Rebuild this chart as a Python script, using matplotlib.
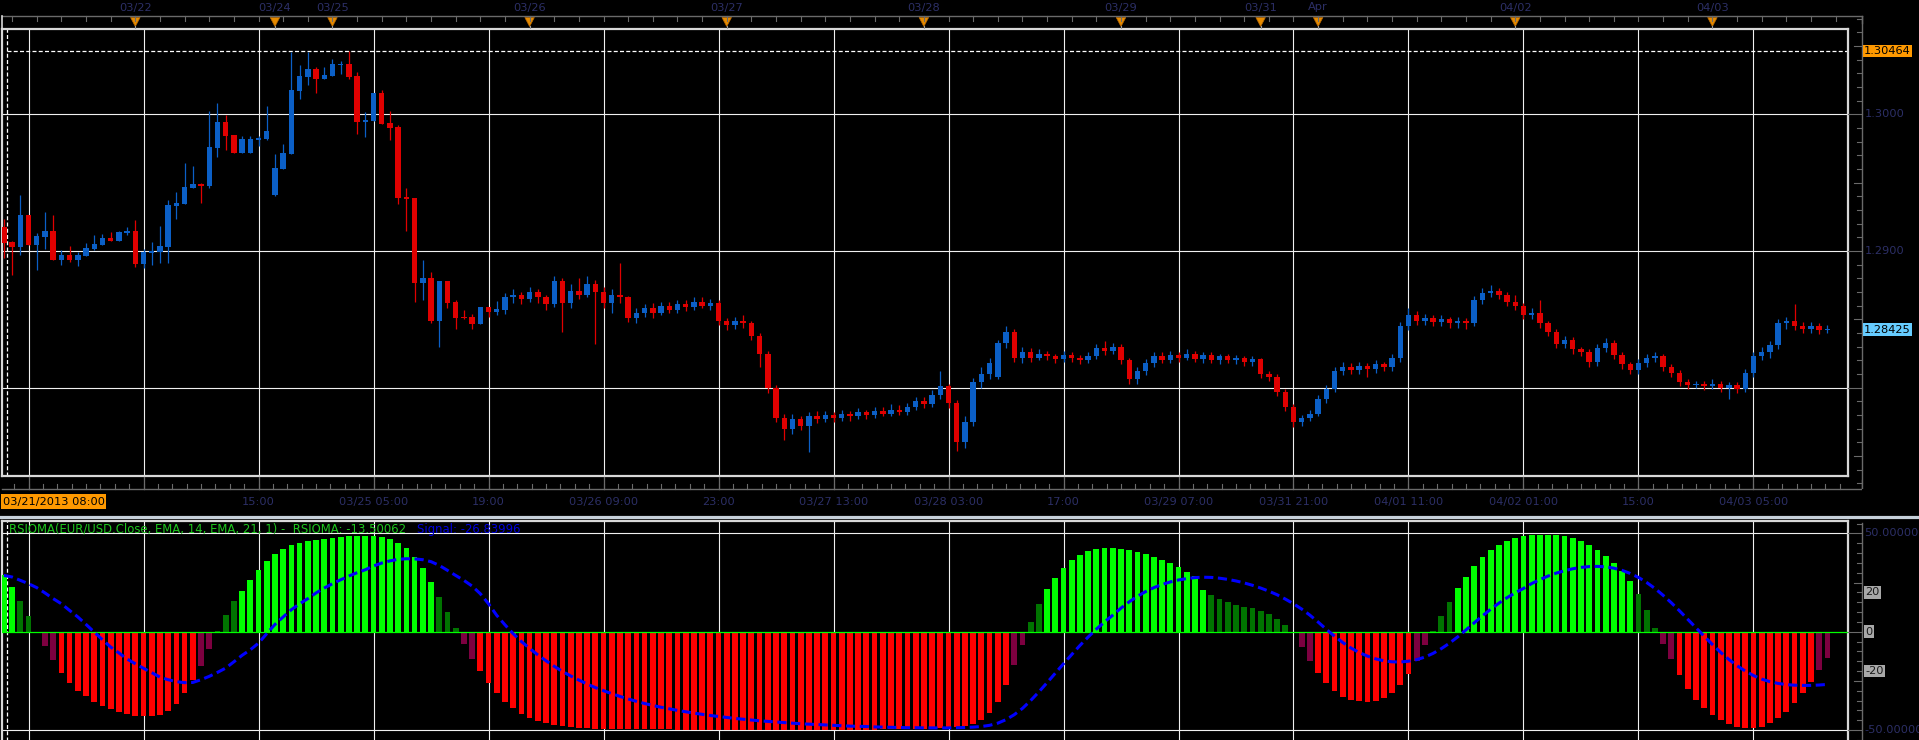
import numpy as np
import matplotlib
matplotlib.use("Agg")
import matplotlib.pyplot as plt
from matplotlib.patches import Rectangle, Polygon

# ---------------- data ----------------
opens = [
    1.29173, 1.29069, 1.29032, 1.29264, 1.29044, 1.29103, 1.29147, 1.28934, 1.28971, 1.28934,
    1.28964, 1.29015, 1.29044, 1.29095, 1.29073, 1.29132, 1.29147, 1.28905, 1.28986, 1.28993,
    1.29030, 1.29329, 1.29344, 1.29461, 1.29490, 1.29476, 1.29754, 1.29944, 1.29849, 1.29717,
    1.29717, 1.29812, 1.29820, 1.29410, 1.29600, 1.29710, 1.30171, 1.30273, 1.30332, 1.30258,
    1.30280, 1.30361, 1.30368, 1.30280, 1.29944, 1.29951, 1.30156, 1.29937, 1.29907, 1.29395,
    1.29388, 1.28766, 1.28803, 1.28488, 1.28781, 1.28627, 1.28517, 1.28517, 1.28466, 1.28591,
    1.28554, 1.2857, 1.2866, 1.2868, 1.2865, 1.2870, 1.2866, 1.2861, 1.2878, 1.2862,
    1.2871, 1.2868, 1.2876, 1.2870, 1.2862, 1.2868, 1.2866, 1.2851, 1.2855, 1.2858,
    1.2855, 1.2860, 1.2857, 1.2861, 1.2859, 1.2863, 1.2860, 1.2862, 1.2849, 1.2846,
    1.2849, 1.2847, 1.2838, 1.2825, 1.2800, 1.2778, 1.2770, 1.2777, 1.2772, 1.2779,
    1.2777, 1.2780, 1.2778, 1.2781, 1.2779, 1.2782, 1.2780, 1.2783, 1.2781, 1.2784,
    1.2782, 1.2786, 1.2790, 1.2788, 1.2795, 1.2801, 1.2789, 1.2760, 1.2775, 1.2804,
    1.2810, 1.2808, 1.2833, 1.2841, 1.2822, 1.2826, 1.2822, 1.2825, 1.2823, 1.2821,
    1.2824, 1.2822, 1.2820, 1.2823, 1.2829, 1.2827, 1.2830, 1.2820, 1.2806, 1.2812,
    1.2818, 1.2823, 1.2820, 1.2824, 1.2822, 1.2825, 1.2821, 1.2824, 1.2820, 1.2823,
    1.2820, 1.2822, 1.2819, 1.2821, 1.2810, 1.2808, 1.2797, 1.2786, 1.2775, 1.2778,
    1.2781, 1.2792, 1.2799, 1.2812, 1.2815, 1.2813, 1.2816, 1.2814, 1.2817, 1.2815,
    1.2822, 1.2845, 1.2853, 1.2849, 1.2851, 1.2848, 1.2850, 1.2847, 1.2849, 1.2847,
    1.2864, 1.2869, 1.2871, 1.2868, 1.2863, 1.2860, 1.2853, 1.2855, 1.2847, 1.2841,
    1.2832, 1.2835, 1.2828, 1.2826, 1.2819, 1.2829, 1.2833, 1.2824, 1.2817, 1.2813,
    1.2818, 1.2822, 1.2823, 1.2815, 1.2811, 1.2804, 1.2802, 1.2803, 1.2801, 1.2803,
    1.2800, 1.2802, 1.2799, 1.2811, 1.2823, 1.2826, 1.2831, 1.2847, 1.2849, 1.2845,
    1.2843, 1.2845, 1.2842,
]
highs = [
    1.29234, 1.29073, 1.29410, 1.29264, 1.29134, 1.29286, 1.29264, 1.29008, 1.29037, 1.28993,
    1.29059, 1.29117, 1.29125, 1.29139, 1.29147, 1.29176, 1.29227, 1.29015, 1.29066, 1.29183,
    1.29373, 1.29432, 1.29644, 1.29622, 1.29498, 1.30024, 1.30083, 1.29995, 1.29849, 1.29842,
    1.29842, 1.29842, 1.30061, 1.29710, 1.29783, 1.30455, 1.30361, 1.30455, 1.30346, 1.30346,
    1.30405, 1.30390, 1.30464, 1.30310, 1.30017, 1.30156, 1.30178, 1.30024, 1.29922, 1.29461,
    1.29388, 1.28934, 1.28847, 1.28781, 1.28781, 1.28642, 1.28569, 1.28539, 1.28591, 1.28591,
    1.28634, 1.2869, 1.2872, 1.2870, 1.2874, 1.2872, 1.2868, 1.2882, 1.2880, 1.2876,
    1.2880, 1.2882, 1.2879, 1.2874, 1.2872, 1.2891, 1.2867, 1.2858, 1.2861, 1.2862,
    1.2863, 1.2863, 1.2864, 1.2864, 1.2866, 1.2866, 1.2865, 1.2864, 1.2851, 1.2852,
    1.2853, 1.2849, 1.2840, 1.2827, 1.2802, 1.2781, 1.2781, 1.2779, 1.2782, 1.2783,
    1.2783, 1.2782, 1.2784, 1.2783, 1.2785, 1.2784, 1.2786, 1.2786, 1.2788, 1.2787,
    1.2789, 1.2793, 1.2793, 1.2798, 1.2812, 1.2803, 1.2791, 1.2779, 1.2807, 1.2815,
    1.2822, 1.2835, 1.2845, 1.2843, 1.2830, 1.2829, 1.2828, 1.2827, 1.2825, 1.2827,
    1.2826, 1.2824, 1.2826, 1.2832, 1.2834, 1.2833, 1.2832, 1.2822, 1.2815, 1.2821,
    1.2826, 1.2826, 1.2827, 1.2826, 1.2828, 1.2827, 1.2826, 1.2826, 1.2825, 1.2825,
    1.2824, 1.2823, 1.2823, 1.2822, 1.2812, 1.2810, 1.2799, 1.2788, 1.2780, 1.2784,
    1.2795, 1.2802, 1.2815, 1.2819, 1.2818, 1.2819, 1.2818, 1.2820, 1.2819, 1.2825,
    1.2848, 1.2858, 1.2856, 1.2854, 1.2853, 1.2853, 1.2852, 1.2852, 1.2851, 1.2867,
    1.2873, 1.2875, 1.2873, 1.2870, 1.2868, 1.2862, 1.2858, 1.2864, 1.2849, 1.2843,
    1.2838, 1.2837, 1.2830, 1.2828, 1.2832, 1.2836, 1.2835, 1.2826, 1.2819, 1.2821,
    1.2825, 1.2826, 1.2825, 1.2817, 1.2813, 1.2806, 1.2805, 1.2805, 1.2806, 1.2805,
    1.2804, 1.2804, 1.2814, 1.2826, 1.2830, 1.2834, 1.2850, 1.2852, 1.2861, 1.2848,
    1.2848, 1.2847, 1.2846,
]
lows = [
    1.28952, 1.28825, 1.28971, 1.29044, 1.28861, 1.29015, 1.28934, 1.28898, 1.28922, 1.28891,
    1.28964, 1.29008, 1.29044, 1.29073, 1.29073, 1.29117, 1.28883, 1.28876, 1.28898, 1.28912,
    1.28912, 1.29234, 1.29344, 1.29461, 1.29351, 1.29461, 1.29688, 1.29739, 1.29717, 1.29717,
    1.29717, 1.29768, 1.29812, 1.29403, 1.29600, 1.29710, 1.30112, 1.30215, 1.30156, 1.30258,
    1.30280, 1.30295, 1.30258, 1.29856, 1.29834, 1.29951, 1.29929, 1.29812, 1.29344, 1.29147,
    1.28627, 1.28642, 1.28474, 1.28300, 1.28583, 1.28430, 1.28503, 1.28430, 1.28466, 1.28517,
    1.28532, 1.2854, 1.2862, 1.2861, 1.2863, 1.2862, 1.2857, 1.2859, 1.2841, 1.2858,
    1.2865, 1.2866, 1.2832, 1.2858, 1.2855, 1.2862, 1.2848, 1.2847, 1.2852, 1.2851,
    1.2853, 1.2855, 1.2855, 1.2856, 1.2857, 1.2858, 1.2857, 1.2846, 1.2842, 1.2843,
    1.2844, 1.2835, 1.2815, 1.2796, 1.2775, 1.2762, 1.2766, 1.2769, 1.2753, 1.2774,
    1.2775, 1.2775, 1.2776, 1.2776, 1.2777, 1.2777, 1.2778, 1.2779, 1.2779, 1.2780,
    1.2780, 1.2784, 1.2785, 1.2786, 1.2792, 1.2785, 1.2754, 1.2756, 1.2772, 1.2800,
    1.2806, 1.2806, 1.2829, 1.2819, 1.2818, 1.2819, 1.2820, 1.2820, 1.2818, 1.2819,
    1.2819, 1.2817, 1.2818, 1.2821, 1.2824, 1.2825, 1.2817, 1.2803, 1.2803, 1.2809,
    1.2815, 1.2818, 1.2818, 1.2819, 1.2820, 1.2819, 1.2818, 1.2818, 1.2817, 1.2818,
    1.2817, 1.2816, 1.2816, 1.2807, 1.2805, 1.2794, 1.2783, 1.2771, 1.2772, 1.2776,
    1.2779, 1.2789, 1.2797, 1.2809, 1.2810, 1.2810, 1.2808, 1.2811, 1.2812, 1.2812,
    1.2819, 1.2842, 1.2846, 1.2846, 1.2845, 1.2845, 1.2844, 1.2844, 1.2843, 1.2845,
    1.2861, 1.2866, 1.2865, 1.2860, 1.2857, 1.2850, 1.2850, 1.2844, 1.2838, 1.2829,
    1.2829, 1.2825, 1.2823, 1.2815, 1.2816, 1.2826, 1.2821, 1.2814, 1.2810, 1.2810,
    1.2815, 1.2819, 1.2812, 1.2808, 1.2801, 1.2799, 1.2800, 1.2798, 1.2799, 1.2797,
    1.2792, 1.2796, 1.2797, 1.2808, 1.2820, 1.2822, 1.2828, 1.2843, 1.2842, 1.2840,
    1.2840, 1.2839, 1.2840,
]
closes = [
    1.29061, 1.29032, 1.29264, 1.29044, 1.29110, 1.29147, 1.28934, 1.28971, 1.28934, 1.28971,
    1.29022, 1.29051, 1.29095, 1.29073, 1.29139, 1.29147, 1.28905, 1.28993, 1.29000, 1.29037,
    1.29337, 1.29351, 1.29468, 1.29490, 1.29476, 1.29761, 1.29944, 1.29842, 1.29717, 1.29820,
    1.29820, 1.29827, 1.29878, 1.29607, 1.29717, 1.30178, 1.30280, 1.30332, 1.30258, 1.30288,
    1.30368, 1.30368, 1.30273, 1.29944, 1.29959, 1.30156, 1.29929, 1.29900, 1.29388, 1.29381,
    1.28766, 1.28803, 1.28488, 1.28781, 1.28620, 1.28510, 1.28510, 1.28466, 1.28591, 1.28554,
    1.28576, 1.2866, 1.2868, 1.2865, 1.2870, 1.2866, 1.2861, 1.2878, 1.2862, 1.2871,
    1.2868, 1.2876, 1.2870, 1.2862, 1.2868, 1.2866, 1.2851, 1.2855, 1.2858, 1.2855,
    1.2860, 1.2857, 1.2861, 1.2859, 1.2863, 1.2860, 1.2862, 1.2849, 1.2846, 1.2849,
    1.2847, 1.2838, 1.2825, 1.2800, 1.2778, 1.2770, 1.2777, 1.2772, 1.2779, 1.2777,
    1.2780, 1.2778, 1.2781, 1.2779, 1.2782, 1.2780, 1.2783, 1.2781, 1.2784, 1.2782,
    1.2786, 1.2790, 1.2788, 1.2795, 1.2801, 1.2789, 1.2760, 1.2775, 1.2804, 1.2810,
    1.2818, 1.2833, 1.2841, 1.2822, 1.2826, 1.2822, 1.2825, 1.2823, 1.2821, 1.2824,
    1.2822, 1.2820, 1.2823, 1.2829, 1.2827, 1.2830, 1.2820, 1.2806, 1.2812, 1.2818,
    1.2823, 1.2820, 1.2824, 1.2822, 1.2825, 1.2821, 1.2824, 1.2820, 1.2823, 1.2820,
    1.2822, 1.2819, 1.2821, 1.2810, 1.2808, 1.2797, 1.2786, 1.2775, 1.2778, 1.2781,
    1.2792, 1.2799, 1.2812, 1.2815, 1.2813, 1.2816, 1.2814, 1.2817, 1.2815, 1.2822,
    1.2845, 1.2853, 1.2849, 1.2851, 1.2848, 1.2850, 1.2847, 1.2849, 1.2847, 1.2864,
    1.2869, 1.2871, 1.2868, 1.2863, 1.2860, 1.2853, 1.2855, 1.2847, 1.2841, 1.2832,
    1.2835, 1.2828, 1.2826, 1.2819, 1.2829, 1.2833, 1.2824, 1.2817, 1.2813, 1.2818,
    1.2822, 1.2823, 1.2815, 1.2811, 1.2804, 1.2802, 1.2803, 1.2801, 1.2803, 1.2800,
    1.2802, 1.2799, 1.2811, 1.2823, 1.2826, 1.2831, 1.2847, 1.2849, 1.2845, 1.2843,
    1.2845, 1.2842, 1.28425,
]

rsioma = [
    28.6, 22.7, 15.4, 7.8, -0.5, -7.1, -14.4, -21.0, -26.1, -30.2,
    -32.9, -35.8, -37.8, -39.3, -40.8, -42.0, -42.9, -42.9, -42.9, -42.5,
    -40.3, -36.9, -31.2, -24.7, -17.6, -9.0, 0.3, 8.3, 15.4, 20.5,
    26.4, 31.2, 35.8, 39.3, 41.9, 43.9, 44.9, 45.9, 46.4, 47.1,
    47.8, 48.0, 48.6, 48.8, 48.6, 48.5, 48.3, 46.9, 44.9, 42.4,
    37.8, 32.2, 25.1, 17.5, 9.8, 1.7, -6.3, -14.1, -20.2, -26.3,
    -31.4, -35.5, -39.0, -41.8, -43.8, -45.3, -46.4, -47.2, -47.9, -48.4,
    -48.8, -49.1, -49.3, -49.4, -49.5, -49.5, -49.6, -49.6, -49.7, -49.7,
    -49.7, -49.7, -49.8, -49.8, -49.8, -49.8, -49.8, -49.8, -49.9, -49.9,
    -49.9, -49.9, -49.9, -49.9, -49.9, -49.9, -49.9, -49.9, -49.9, -49.9,
    -49.9, -49.9, -49.9, -49.8, -49.8, -49.8, -49.8, -49.7, -49.7, -49.6,
    -49.5, -49.4, -49.3, -49.1, -48.9, -48.6, -48.4, -48.0, -47.0, -45.0,
    -41.5, -35.5, -27.0, -17.0, -7.0, 5.0, 14.0, 21.5, 27.5, 32.5,
    36.5, 39.0, 40.8, 41.8, 42.3, 42.5, 42.2, 41.6, 40.7, 39.6,
    38.2, 36.6, 34.8, 32.8, 30.6, 28.2, 21.0, 18.5, 16.5, 15.0,
    13.8, 12.8, 11.8, 10.5, 8.8, 6.5, 3.5, -0.5, -8.0, -15.0,
    -21.0, -26.0, -30.0, -33.0, -34.5, -35.3, -35.5, -35.0, -33.5, -31.0,
    -27.0, -21.5, -15.0, -7.0, 0.5, 8.0, 15.0, 22.0, 28.0, 33.5,
    38.0, 41.5, 44.0, 46.0, 47.5, 48.5, 49.0, 49.2, 49.2, 49.0,
    48.5, 47.5, 46.0, 44.0, 41.5, 38.5, 35.0, 31.0, 26.0, 19.0,
    11.0, 2.0, -6.0, -14.0, -22.0, -29.0, -34.5, -39.0, -42.5, -45.0,
    -47.0, -48.3, -49.0, -49.2, -48.5, -46.5, -44.0, -40.7, -36.1, -31.0,
    -25.6, -19.6, -13.5,
]
signal = [
    28.6, 27.8, 26.1, 24.4, 22.4, 19.7, 16.8, 14.2, 10.8, 7.5,
    3.7, -0.2, -4.1, -7.8, -10.8, -13.9, -16.3, -18.6, -20.8, -23.1,
    -24.4, -25.4, -25.9, -25.8, -24.4, -22.7, -20.7, -18.5, -15.3, -12.0,
    -9.2, -5.8, -1.0, 3.7, 7.5, 11.2, 14.2, 16.8, 19.7, 22.2,
    24.4, 26.4, 28.3, 30.0, 31.5, 33.4, 34.9, 36.0, 36.8, 37.1,
    37.0, 36.6, 35.6, 33.7, 31.2, 28.6, 26.1, 23.2, 19.3, 14.2,
    8.3, 3.5, -1.0, -5.0, -8.5, -11.8, -14.8, -17.6, -20.2, -22.5,
    -24.6, -26.6, -28.4, -30.0, -31.5, -32.9, -34.2, -35.4, -36.5, -37.5,
    -38.4, -39.2, -40.0, -40.7, -41.4, -42.0, -42.6, -43.1, -43.6, -44.1,
    -44.5, -44.9, -45.3, -45.6, -45.9, -46.2, -46.5, -46.8, -47.0, -47.2,
    -47.4, -47.6, -47.8, -48.0, -48.1, -48.2, -48.4, -48.5, -48.6, -48.7,
    -48.8, -48.8, -48.9, -48.9, -48.9, -48.9, -48.8, -48.7, -48.5, -48.2,
    -47.6, -46.5, -44.7, -42.2, -39.0, -35.0, -30.6, -25.9, -21.1, -16.3,
    -11.6, -7.0, -2.7, 1.3, 5.0, 8.4, 12.0, 15.2, 18.0, 20.4,
    22.4, 24.0, 25.3, 26.3, 27.0, 27.5, 27.7, 27.6, 27.2, 26.6,
    25.8, 24.8, 23.6, 22.2, 20.6, 18.8, 16.6, 14.2, 11.5, 8.4,
    4.9, 1.2, -2.3, -5.5, -8.3, -10.6, -12.4, -13.8, -14.8, -15.3,
    -15.4, -15.0, -14.2, -12.9, -11.0, -8.6, -5.8, -2.6, 0.9, 4.5,
    8.0, 11.4, 14.5, 17.3, 19.8, 22.0, 24.5, 26.5, 28.3, 29.8,
    31.0, 32.0, 32.7, 33.1, 33.2, 33.0, 32.3, 31.2, 29.6, 27.6,
    25.0, 22.0, 18.5, 14.7, 10.6, 6.3, 2.0, -2.3, -6.5, -10.5,
    -14.1, -17.3, -20.0, -22.3, -24.1, -25.4, -26.3, -26.9, -27.2, -27.3,
    -27.3, -27.1, -26.8,
]

grid_bars = [3, 17, 31, 45, 59, 73, 87, 101, 115, 129, 143, 157, 171, 185, 199, 213]
bottom_labels = ["", "", "15:00", "03/25 05:00", "19:00", "03/26 09:00", "23:00",
                 "03/27 13:00", "03/28 03:00", "17:00", "03/29 07:00", "03/31 21:00",
                 "04/01 11:00", "04/02 01:00", "15:00", "04/03 05:00"]
day_bars = [16, 33, 40, 64, 88, 112, 136, 153, 160, 184, 208]
day_labels = ["03/22", "03/24", "03/25", "03/26", "03/27", "03/28", "03/29",
              "03/31", "Apr", "04/02", "04/03"]
price_labels = [1.29, 1.30]
high_mark = 1.30464
last_price = 1.28425
first_time = "03/21/2013 08:00"
title_main = "RSIOMA(EUR/USD.Close, EMA, 14, EMA, 21, 1) -  RSIOMA: -13.50062"
title_signal = "Signal: -26.83996"

# ---------------- layout ----------------
W, H = 1919, 740
BAR0, STEP = 3.9, 8.214          # pixel x of bar 0, pixels per bar
PY_REF, P_REF, PX_PER_PRICE = 114.3, 1.30, 13670.0
IY0, IPX = 631.7, 1.967          # indicator zero pixel, px per unit

def frect(x0, y0, x1, y1):
    return [x0 / W, 1 - y1 / H, (x1 - x0) / W, (y1 - y0) / H]

def bars_for(px0, px1):
    return ((px0 - BAR0) / STEP, (px1 - BAR0) / STEP)

def price_at(py):
    return P_REF - (py - PY_REF) / PX_PER_PRICE

def ind_at(py):
    return (IY0 - py) / IPX

BG = "black"
GRID = "#f0f0f0"
AXC = "#6a6a6a"
NAVY = "#2c2f66"
BLUE = "#0b5fc6"
RED = "#e00000"
FS = 8.2

plt.rcParams["font.family"] = ["DejaVu Sans"]
fig = plt.figure(figsize=(W / 100, H / 100), dpi=100, facecolor=BG)

n = len(closes)
x = np.arange(n)
o = np.array(opens); c = np.array(closes)
hi = np.array(highs); lo = np.array(lows)
cursor_bar = bars_for(7.3, 7.3)[0]

# ---- main price panel ----
ax = fig.add_axes(frect(2, 29, 1848, 476))
ax.set_facecolor(BG)
ax.set_xlim(*bars_for(2, 1848))
ax.set_ylim(price_at(476), price_at(29))
ax.set_xticks([]); ax.set_yticks([])
for s in ax.spines.values():
    s.set_color("#d8d8d8"); s.set_linewidth(1.6)
for gb in grid_bars:
    ax.axvline(gb, color=GRID, lw=0.8, zorder=1)
for p in [1.28, 1.29, 1.30]:
    ax.axhline(p, color=GRID, lw=0.8, zorder=1)
ax.plot([cursor_bar, bars_for(1848, 1848)[0]], [high_mark, high_mark], color="white",
        lw=0.9, ls=(0, (3.2, 1.8)), zorder=1)
ax.axvline(cursor_bar, color="white", lw=0.9, ls=(0, (3.2, 1.8)), zorder=1)

up = c > o
cols = np.where(up, BLUE, RED)
ax.vlines(x, lo, hi, colors=cols, lw=0.9, zorder=3)
body_lo = np.minimum(o, c)
body_h = np.maximum(np.abs(c - o), 0.00006)
ax.bar(x, body_h, bottom=body_lo, width=0.66, color=cols, linewidth=0, zorder=4)

# ---- top time band ----
tax = fig.add_axes(frect(0, 0, 1862, 29))
tax.set_xlim(*bars_for(0, 1862)); tax.set_ylim(29, 0)
tax.axis("off")
x_left, x_right = bars_for(2, 1862)
tax.plot([x_left, x_right], [16, 16], color=AXC, lw=1.0, clip_on=False)
tax.plot([x_right, x_right], [16, 23], color=AXC, lw=1.0, clip_on=False)
tax.plot([x_left, x_left], [16, 29], color="#d8d8d8", lw=1.2, clip_on=False)
for tb in range(1, n + 2, 3):
    tax.plot([tb, tb], [16, 21], color=AXC, lw=0.8)
for db, lab in zip(day_bars, day_labels):
    tax.add_patch(Polygon([[db - 0.58, 17.5], [db + 0.58, 17.5], [db, 26.5]],
                          closed=True, fc="#e58a00", ec="#b86800", lw=0.5))
    tax.plot([db, db], [26, 29], color="#9a9a9a", lw=0.8)
    tax.text(db, 7.5, lab, color=NAVY, fontsize=FS, ha="center", va="center")

# ---- bottom time band ----
bax = fig.add_axes(frect(0, 476, 1862, 521))
bax.set_xlim(*bars_for(0, 1862)); bax.set_ylim(521, 476)
bax.axis("off")
bax.plot([x_left, x_right], [489, 489], color=AXC, lw=1.0)
bax.plot([x_right, x_right], [480, 489], color=AXC, lw=1.0)
tick_b = grid_bars[0] - 1.75
while tick_b < n + 1:
    bax.plot([tick_b, tick_b], [484 if int(round(tick_b * 4)) % 7 else 482, 489], color=AXC, lw=0.8)
    tick_b += 1.75
for gb, lab in zip(grid_bars, bottom_labels):
    bax.plot([gb, gb], [477, 489], color=AXC, lw=0.9)
    if lab:
        bax.text(gb, 502, lab, color=NAVY, fontsize=FS, ha="center", va="center")
bx0, bx1 = bars_for(1, 106)
bax.add_patch(Rectangle((bx0, 494), bx1 - bx0, 15, fc="#ff9900", ec="none"))
bax.text(bars_for(3, 3)[0], 501.8, first_time, color="black", fontsize=FS,
         ha="left", va="center")
# separator
fig.add_artist(plt.Line2D([0, 1], [1 - 517 / H] * 2, color="#c6d0da", lw=2.3))

# ---- right price scale ----
rax = fig.add_axes(frect(1848, 16, 1919, 489))
rax.set_xlim(1848, 1919); rax.set_ylim(price_at(489), price_at(16))
rax.axis("off")
rax.plot([1862, 1862], [price_at(489), price_at(16)], color=AXC, lw=1.0)
for k in range(1270, 1308):
    p = k / 1000.0
    ln = 14 if k % 10 == 0 else (8 if k % 5 == 0 else 5)
    rax.plot([1862 - ln, 1862], [p, p], color=AXC, lw=0.8)
for p in price_labels:
    rax.text(1865, p, f"{p:.4f}", color=NAVY, fontsize=FS, ha="left", va="center")
rax.text(1864, high_mark, f"{high_mark:.5f}", color="black", fontsize=FS, ha="left",
         va="center", bbox=dict(boxstyle="square,pad=0.12", fc="#ff9900", ec="none"))
rax.text(1864, last_price, f"{last_price:.5f}", color="black", fontsize=FS, ha="left",
         va="center", bbox=dict(boxstyle="square,pad=0.12", fc="#66ccff", ec="none"))

# ---- indicator panel ----
ax2 = fig.add_axes(frect(2, 521, 1848, 742))
ax2.set_facecolor(BG)
ax2.set_xlim(*bars_for(2, 1848))
ax2.set_ylim(ind_at(742), ind_at(521))
ax2.set_xticks([]); ax2.set_yticks([])
for s in ax2.spines.values():
    s.set_color("#d8d8d8"); s.set_linewidth(1.6)
for gb in grid_bars:
    ax2.axvline(gb, color=GRID, lw=0.8, zorder=1)
for lv in [50, -50]:
    ax2.axhline(lv, color=GRID, lw=0.8, zorder=1)
ax2.axvline(cursor_bar, color="white", lw=0.9, ls=(0, (3.2, 1.8)), zorder=1)

def hist_color(v):
    if v > 20:
        return "#00ff00"
    if v >= 0:
        return "#007400"
    if v >= -20:
        return "#7d0040"
    return "#ff0000"

ax2.bar(x, rsioma, width=0.7, color=[hist_color(v) for v in rsioma], linewidth=0, zorder=3)
ax2.axhline(0, color="#00ff00", lw=0.9, zorder=4)
ax2.plot(x, signal, color="#0000ff", lw=2.2, ls=(0, (3.0, 1.5)), zorder=5)
ax2.text(bars_for(9, 9)[0], ind_at(529), title_main, color="#1ec81e", fontsize=8.4,
         ha="left", va="center", zorder=6)
ax2.text(bars_for(417, 417)[0], ind_at(529), title_signal, color="#0000e0", fontsize=8.4,
         ha="left", va="center", zorder=6)

# ---- right indicator scale ----
iax = fig.add_axes(frect(1848, 521, 1919, 742))
iax.set_xlim(1848, 1919); iax.set_ylim(ind_at(742), ind_at(521))
iax.axis("off")
iax.plot([1862, 1862], [ind_at(742), ind_at(523)], color=AXC, lw=1.0)
for v in range(-55, 60, 5):
    ln = 14 if v % 50 == 0 else (8 if v % 25 == 0 else 5)
    iax.plot([1862 - ln, 1862], [v, v], color=AXC, lw=0.8)
for v in [50, -50]:
    iax.text(1864, v, f"{v:.5f}", color=NAVY, fontsize=FS, ha="left", va="center")
for v in [20, 0, -20]:
    iax.text(1865, v, f"{v}", color="#1a1a1a", fontsize=FS, ha="left", va="center",
             bbox=dict(boxstyle="square,pad=0.12", fc="#a8a8a8", ec="none"))

fig.savefig("out.png", dpi=100, facecolor=BG)
